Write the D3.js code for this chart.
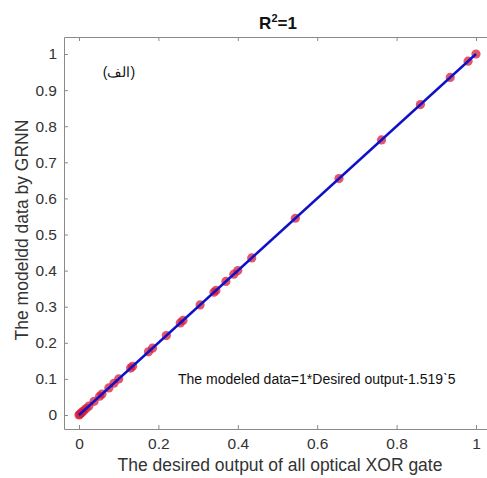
<!DOCTYPE html>
<html>
<head>
<meta charset="utf-8">
<script src="https://cdn.jsdelivr.net/npm/d3@7"></script>
<style>
  body { margin: 0; background: #fff; }
  text { font-family: Arial, "Liberation Sans", sans-serif; }
</style>
</head>
<body>
<svg width="487" height="478"></svg>
<script>
// desired output (x) and modeled output (y)
const desired = [0, 0.002, 0.005, 0.008, 0.012, 0.018, 0.025, 0.038, 0.052, 0.058, 0.075, 0.088,
    0.10, 0.13, 0.135, 0.175, 0.185, 0.22, 0.255, 0.262, 0.305, 0.34, 0.345, 0.37, 0.39, 0.40,
    0.435, 0.545, 0.655, 0.762, 0.86, 0.935, 0.98, 1.0];
const modeled = desired.slice();
const xTicks = [0, 0.2, 0.4, 0.6, 0.8, 1];
const yTicks = [0, 0.1, 0.2, 0.3, 0.4, 0.5, 0.6, 0.7, 0.8, 0.9, 1];
const fitSlope = 1, fitIntercept = -1.519e-5;

const svg = d3.select('svg');
const padL = 64, padT = 37, padB = 429, padR = 492;

// 0 -> 79px, 1 -> 476px horizontally; 0 -> 415px, 1 -> 54px vertically
const x = d3.scaleLinear().domain([(padL - 79) / 397, (padR - 79) / 397]).range([padL, padR]);
const y = d3.scaleLinear().domain([(415 - padB) / 361, (415 - padT) / 361]).range([padB, padT]);

const axisColor = '#8a8a8a';
const textColor = '#333';

const xAxis = svg.append('g').attr('transform', `translate(0,${padB})`)
    .call(d3.axisBottom(x).tickValues(xTicks).tickSizeInner(-4).tickSizeOuter(0)
        .tickPadding(9).tickFormat(d3.format('')));
const xTop = svg.append('g').attr('transform', `translate(0,${padT})`)
    .call(d3.axisTop(x).tickValues(xTicks).tickSizeInner(-4).tickSizeOuter(0).tickFormat(''));
const yAxis = svg.append('g').attr('transform', `translate(${padL},0)`)
    .call(d3.axisLeft(y).tickValues(yTicks).tickSizeInner(-4).tickSizeOuter(0)
        .tickPadding(7).tickFormat(d3.format('')));

[xAxis, xTop, yAxis].forEach(g => {
    g.select('.domain').attr('stroke', axisColor);
    g.selectAll('.tick line').attr('stroke', axisColor);
    g.selectAll('.tick text').attr('fill', textColor).attr('font-size', 15.5)
        .attr('font-family', 'Arial, "Liberation Sans", sans-serif');
});

// points
svg.append('g').selectAll('circle')
    .data(desired)
    .enter()
    .append('circle')
    .attr('cx', d => x(d))
    .attr('cy', (d, i) => y(modeled[i]))
    .attr('r', 4.6)
    .attr('fill', 'rgba(215,30,55,0.75)');

// fitted line
svg.append('line')
    .attr('x1', x(0)).attr('y1', y(fitSlope * 0 + fitIntercept))
    .attr('x2', x(1)).attr('y2', y(fitSlope * 1 + fitIntercept))
    .attr('stroke', '#1010c8').attr('stroke-width', 2.4);

// title
const title = svg.append('text').attr('x', 278).attr('y', 29).attr('text-anchor', 'middle')
    .attr('font-weight', 'bold').attr('font-size', 17).attr('fill', '#111');
title.append('tspan').text('R');
title.append('tspan').attr('dy', -7).attr('font-size', 11).text('2');
title.append('tspan').attr('dy', 7).text('=1');

// axis labels
svg.append('text').attr('x', 280).attr('y', 471).attr('text-anchor', 'middle')
    .attr('font-size', 17.5).attr('fill', textColor)
    .text('The desired output of all optical XOR gate');
svg.append('text').attr('transform', 'translate(28,230) rotate(-90)').attr('text-anchor', 'middle')
    .attr('font-size', 17.5).attr('fill', textColor)
    .text('The modeldd data by GRNN');

// annotations
svg.append('text').attr('x', 178).attr('y', 384).attr('font-size', 14).attr('fill', '#111')
    .text('The modeled data=1*Desired output-1.519\u02CB5');
svg.append('text').attr('x', 119).attr('y', 77).attr('text-anchor', 'middle')
    .attr('font-size', 14).attr('fill', '#111').attr('direction', 'rtl')
    .text('(الف)');
</script>
</body>
</html>
